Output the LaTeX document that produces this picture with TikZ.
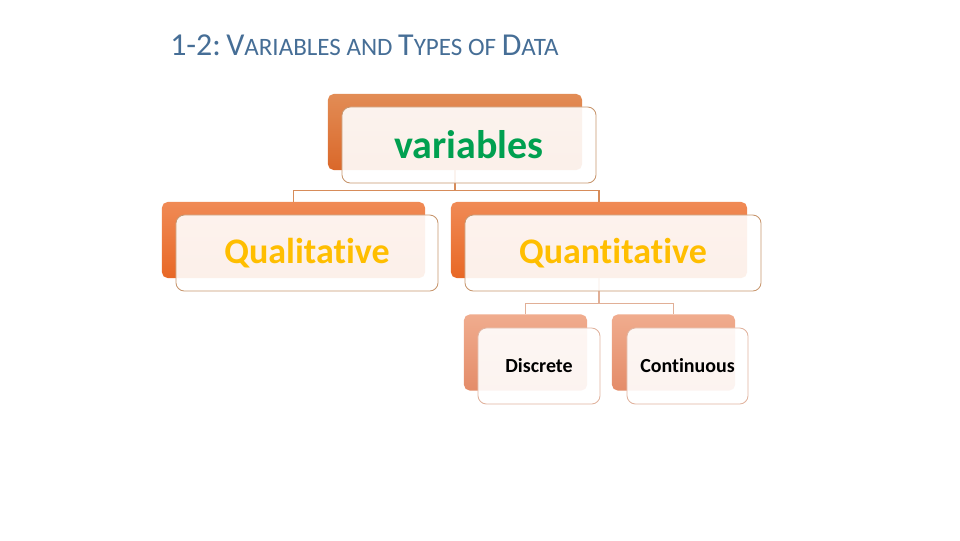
\documentclass[tikz,border=0pt]{standalone}
\usepackage{fontspec}
\setmainfont{Carlito}[RawFeature={-liga;-clig;-calt;-dlig}]

\definecolor{titleblue}{RGB}{70,110,150}
\definecolor{vargreen}{RGB}{0,160,80}
\definecolor{qgold}{RGB}{255,190,0}
\definecolor{linkbrown}{RGB}{215,140,90}
\definecolor{linklight}{RGB}{225,175,150}
\definecolor{edgetan}{RGB}{200,150,110}
\definecolor{edgelight}{RGB}{225,180,160}

\begin{document}
\begin{tikzpicture}
[
  x=0.025cm, y=-0.025cm,
  backbox/.style = {rounded corners=4pt, minimum height=1.9cm, inner sep=0pt},
  topback/.style = {backbox, top color={rgb,255:red,226;green,140;blue,85}, bottom color={rgb,255:red,218;green,104;blue,42}},
  midback/.style = {backbox, top color={rgb,255:red,240;green,138;blue,85}, bottom color={rgb,255:red,232;green,104;blue,38}},
  lowback/.style = {backbox, top color={rgb,255:red,240;green,172;blue,142}, bottom color={rgb,255:red,228;green,140;blue,105}},
  frontbox/.style = {draw=edgetan, line width=0.6pt, rounded corners=6pt, fill=white, fill opacity=0.9, text opacity=1, minimum height=1.9cm, inner sep=0pt, font=\bfseries},
  link/.style = {draw=linkbrown, line width=1.1pt},
]
\useasboundingbox (0,0) rectangle (960,540);

% title
\node[anchor=base west, inner sep=0pt, text=titleblue] (title) at (170,55)
  {\fontsize{22.7}{28}\selectfont 1-2:\,V{\fontsize{17.8}{22}\selectfont ARIABLES AND }T{\fontsize{17.8}{22}\selectfont YPES OF }D{\fontsize{17.8}{22}\selectfont ATA}};

% back boxes
\node[topback, minimum width=6.35cm] (varB) at (455,132) {};
\node[midback, minimum width=6.575cm] (qualB) at (293.5,240) {};
\node[midback, minimum width=7.4cm] (quanB) at (599,240) {};
\node[lowback, minimum width=3.075cm] (discB) at (525.5,352.5) {};
\node[lowback, minimum width=3.075cm] (contB) at (673.5,352.5) {};

% connectors
\draw[link] (varB.south) -- ++(0,20) -| (qualB.north);
\draw[link] (varB.south) -- ++(0,20) -| (quanB.north);
\draw[link, draw=linklight] (quanB.south) -- ++(0,25) -| (discB.north);
\draw[link, draw=linklight] (quanB.south) -- ++(0,25) -| (contB.north);

% front boxes
\node[frontbox, minimum width=6.35cm, text=vargreen, font=\bfseries\fontsize{28.4}{34}\selectfont] (varF) at ([shift={(14,13)}]varB) {variables};
\node[frontbox, minimum width=6.55cm, text=qgold, font=\bfseries\fontsize{25.6}{30}\selectfont] (qualF) at ([shift={(13.5,13)}]qualB) {Qualitative};
\node[frontbox, minimum width=7.4cm, text=qgold, font=\bfseries\fontsize{25.6}{30}\selectfont] (quanF) at ([shift={(14,13)}]quanB) {Quantitative};
\node[frontbox, draw=edgelight, minimum width=3.05cm, font=\bfseries\fontsize{14.2}{17}\selectfont] (discF) at ([shift={(13.5,13.5)}]discB) {Discrete};
\node[frontbox, draw=edgelight, minimum width=3.025cm, font=\bfseries\fontsize{14.2}{17}\selectfont] (contF) at ([shift={(14,13.5)}]contB) {Continuous};

\end{tikzpicture}
\end{document}
